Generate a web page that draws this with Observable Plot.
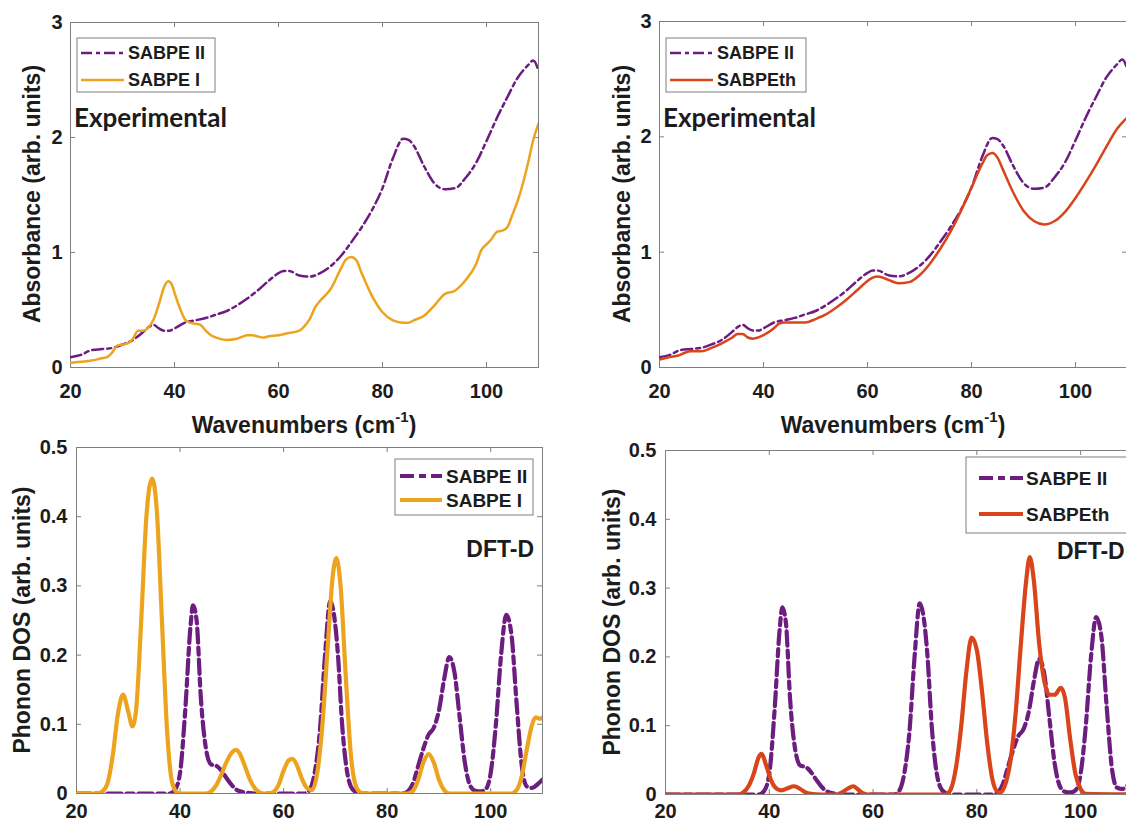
<!DOCTYPE html>
<html><head><meta charset="utf-8">
<script src="https://cdn.jsdelivr.net/npm/d3@7"></script>
<script src="https://cdn.jsdelivr.net/npm/@observablehq/plot@0.6"></script>
<style>
body{margin:0;background:#fff;}
#fig{position:relative;width:1126px;height:823px;overflow:hidden;background:#fff;}
.panel{position:absolute;}
.panel svg{overflow:visible;background:none !important;max-width:none !important;}
</style></head><body><div id="fig"></div>
<script>
// ---------- data ----------
const xTicks = [20, 40, 60, 80, 100];
const yTicksExp = [0, 1, 2, 3];
const yTicksDos = [0, 0.1, 0.2, 0.3, 0.4, 0.5];

// Experimental absorbance, SABPE II
const expII_x = [20,22,24,26,28,30,32,34,35,36,37,38,39,40,42,44,46,48,50,52,54,56,58,60,61,62,64,66,68,70,72,74,76,78,80,82,84,85,86,88,90,92,94,96,98,100,102,104,106,107,108,109,110];
const expII_y = [0.09,0.11,0.15,0.16,0.17,0.20,0.24,0.31,0.35,0.37,0.34,0.32,0.32,0.34,0.39,0.41,0.43,0.46,0.49,0.54,0.60,0.67,0.75,0.82,0.84,0.84,0.80,0.79,0.82,0.88,0.97,1.09,1.22,1.37,1.56,1.82,1.99,1.98,1.93,1.75,1.60,1.55,1.56,1.65,1.78,1.97,2.17,2.35,2.52,2.58,2.63,2.67,2.58];

// Experimental absorbance, SABPE I
const expI_x = [20,22,24,26,27,28,29,30,31,32,33,34,35,36,37,38,38.8,39.5,40,41,42,43,44,45,46,47,48,50,52,54,55,56,57,58,60,62,64,65,66,67,68,70,72,73,74,75,76,78,80,82,84,85,86,88,90,92,94,96,98,99,100,101,102,103,104,105,106,107,108,109,110];
const expI_y = [0.04,0.05,0.06,0.08,0.09,0.13,0.19,0.20,0.21,0.25,0.32,0.32,0.35,0.42,0.55,0.70,0.75,0.72,0.65,0.52,0.42,0.39,0.38,0.37,0.32,0.28,0.26,0.24,0.25,0.28,0.28,0.27,0.26,0.27,0.28,0.30,0.32,0.36,0.42,0.52,0.58,0.68,0.86,0.94,0.96,0.93,0.82,0.62,0.48,0.41,0.39,0.39,0.41,0.45,0.54,0.64,0.67,0.76,0.90,1.02,1.07,1.12,1.18,1.19,1.22,1.33,1.45,1.60,1.78,1.98,2.12];

// Experimental absorbance, SABPEth
const expEth_x = [20,22,24,25,26,28,30,32,34,35,36,37,38,40,42,43,44,46,48,50,52,54,56,58,60,61,62,64,66,68,70,72,74,76,78,80,82,83,84,85,86,88,90,92,94,96,98,100,102,104,106,108,110];
const expEth_y = [0.07,0.09,0.11,0.13,0.14,0.14,0.17,0.21,0.26,0.29,0.29,0.26,0.25,0.28,0.34,0.38,0.39,0.39,0.39,0.42,0.46,0.52,0.59,0.67,0.75,0.78,0.79,0.76,0.73,0.74,0.80,0.90,1.03,1.18,1.36,1.56,1.76,1.84,1.86,1.82,1.72,1.52,1.36,1.27,1.24,1.27,1.35,1.47,1.61,1.76,1.92,2.07,2.17];

// DFT-D phonon DOS, SABPE II
const dosII_x = [20,38,39,40,41,42,42.5,43.2,44,45,46,47,48,49,50,51,53,55,64,65,66,67,68,69,69.7,70.5,71.3,72,73,74,75,83,84,85,86,87,88,89,90,91,92,93,94,95,96,97,98,99,100,101,102,103,104,105,106,107,108,109,110];
const dosII_y = [0,0,0.005,0.03,0.12,0.24,0.272,0.25,0.14,0.065,0.042,0.04,0.033,0.022,0.012,0.005,0.001,0,0,0.005,0.03,0.09,0.2,0.278,0.26,0.2,0.1,0.045,0.01,0.002,0,0,0.003,0.015,0.04,0.065,0.085,0.095,0.12,0.165,0.197,0.175,0.11,0.045,0.012,0.004,0.003,0.006,0.03,0.1,0.2,0.258,0.23,0.13,0.04,0.01,0.008,0.013,0.02];

// DFT-D phonon DOS, SABPE I
const dosI_x = [20,24,25,26,27,28,29,30,30.8,31.5,32.5,33.5,34.6,35.5,36.5,37.5,38.5,39.5,40,45,46,47,48,49,50,50.8,51.5,52.5,53.5,54.5,55.5,56,57,58,59,60,61,61.7,62.5,63.5,64.5,65.5,66.5,67.5,68.5,69.5,70.2,71,72,73,74,75,76,84,85,86,87,88,89,90,91,92,104,105,106,107,108,108.7,109.5,110];
const dosI_y = [0,0,0.003,0.015,0.055,0.115,0.143,0.118,0.097,0.12,0.25,0.40,0.455,0.41,0.25,0.09,0.015,0.001,0,0,0.003,0.012,0.028,0.046,0.059,0.063,0.058,0.04,0.02,0.007,0.001,0,0,0.002,0.012,0.033,0.048,0.05,0.042,0.022,0.008,0.005,0.03,0.1,0.21,0.315,0.34,0.30,0.17,0.055,0.01,0.001,0,0,0.004,0.02,0.045,0.057,0.045,0.02,0.005,0,0,0.005,0.025,0.065,0.1,0.11,0.108,0.11];

// DFT-D phonon DOS, SABPEth
const dosEth_x = [20,34,35,36,37,38,38.5,39.5,40.5,41.5,42.4,43.5,44.8,46,47,48,50,53,54,55,56.2,57,58,59,74,75,76,77,78,79,80,81,82,83,84,84.5,85.5,86.5,87.5,88.5,89.5,90.2,91,92,93,94,95,96.2,97,98,99,100,101,110];
const dosEth_y = [0,0,0.003,0.012,0.03,0.055,0.059,0.04,0.018,0.008,0.006,0.009,0.012,0.008,0.003,0.001,0,0,0.003,0.008,0.012,0.008,0.002,0,0,0.008,0.04,0.1,0.18,0.228,0.21,0.15,0.075,0.022,0.004,0.003,0.015,0.05,0.12,0.22,0.31,0.345,0.31,0.22,0.165,0.145,0.145,0.155,0.14,0.08,0.03,0.008,0.001,0];

const names = {II: "SABPE II", I: "SABPE I", eth: "SABPEth"};
const colors = {II: "#6c1d80", I: "#eca41f", eth: "#d9441a"};

// ---------- helpers ----------
const zip = (xs, ys) => xs.map((x, i) => ({x, y: ys[i]}));
const FONT = "'Liberation Sans', Arial, Helvetica, sans-serif";
const fig = document.getElementById("fig");

function panel(cfg) {
  const plotW = cfg.width - cfg.mL - cfg.mR;
  const plotH = cfg.height - cfg.mT - cfg.mB;
  const [y0, y1] = cfg.yDomain;
  const tx = 5 / plotW * 90;          // inward tick length in x units
  const ty = 5 / plotH * (y1 - y0);   // inward tick length in y units
  const tickStroke = "#7f7f7f";
  const marks = [
    Plot.frame({stroke: "#7f7f7f", strokeWidth: 1}),
    Plot.ruleX(xTicks, {x: d => d, y1: y0, y2: y0 + ty, stroke: tickStroke}),
    Plot.ruleX(xTicks, {x: d => d, y1: y1, y2: y1 - ty, stroke: tickStroke}),
    Plot.ruleY(cfg.yTicks, {y: d => d, x1: 20, x2: 20 + tx, stroke: tickStroke}),
    Plot.ruleY(cfg.yTicks, {y: d => d, x1: 110, x2: 110 - tx, stroke: tickStroke}),
    Plot.axisX(xTicks, {anchor: "bottom", tickSize: 0, tickPadding: cfg.xPad, fontSize: 20, fontWeight: "bold", label: null}),
    Plot.axisY(cfg.yTicks, {anchor: "left", tickSize: 0, tickPadding: cfg.yPad, fontSize: 20, fontWeight: "bold", label: null, tickFormat: d => String(d)})
  ];
  for (const s of cfg.series) {
    marks.push(Plot.line(zip(s.x, s.y), {x: "x", y: "y", stroke: s.color, strokeWidth: s.width,
      strokeDasharray: s.dash || null, curve: "monotone-x", clip: true}));
  }
  const chart = Plot.plot({
    width: cfg.width, height: cfg.height,
    marginLeft: cfg.mL, marginRight: cfg.mR, marginTop: cfg.mT, marginBottom: cfg.mB,
    x: {domain: [20, 110]},
    y: {domain: cfg.yDomain},
    style: {fontFamily: FONT, color: "#1c1c1c", background: "transparent", overflow: "visible", maxWidth: "none"},
    marks
  });
  const div = document.createElement("div");
  div.className = "panel";
  div.style.left = cfg.left + "px";
  div.style.top = cfg.top + "px";
  div.style.width = cfg.width + "px";
  div.style.height = cfg.height + "px";
  chart.style.width = cfg.width + "px";
  chart.style.height = cfg.height + "px";
  div.appendChild(chart);
  fig.appendChild(div);

  const svg = d3.select(chart);
  const L = X => X - cfg.left, T = Y => Y - cfg.top;
  const g = svg.append("g").attr("font-family", FONT).attr("fill", "#1c1c1c").attr("text-anchor", "start");

  // legend
  const lg = cfg.legend;
  g.append("rect").attr("x", L(lg.x)).attr("y", T(lg.y)).attr("width", lg.w).attr("height", lg.h)
    .attr("fill", "white").attr("stroke", "#7f7f7f").attr("stroke-width", 1);
  cfg.series.forEach((s, i) => {
    const ry = T(lg.rows[i]);
    g.append("line").attr("x1", L(lg.lx0)).attr("x2", L(lg.lx1)).attr("y1", ry).attr("y2", ry)
      .attr("stroke", s.color).attr("stroke-width", s.width).attr("stroke-dasharray", s.legendDash || null);
    g.append("text").attr("x", L(lg.tx)).attr("y", ry).attr("dy", "0.36em").attr("text-anchor", "start")
      .attr("font-size", lg.size).attr("font-weight", "bold").text(s.name);
  });

  // note ("Experimental" / "DFT-D")
  const n = cfg.note;
  g.append("text").attr("x", L(n.x)).attr("y", T(n.y)).attr("dy", "0.36em")
    .attr("text-anchor", n.anchor).attr("font-size", n.size).attr("font-weight", "bold")
    .attr("font-family", n.family || FONT).text(n.text);

  // y label
  g.append("text").attr("transform", `translate(${L(cfg.ylab.x)},${T(cfg.ylab.y)}) rotate(-90)`)
    .attr("text-anchor", "middle").attr("dy", "0.36em").attr("font-size", 23).attr("font-weight", "bold")
    .text(cfg.ylab.text);

  // x label with superscript
  if (cfg.xlab) {
    const t = g.append("text").attr("x", L(cfg.xlab.x)).attr("y", T(cfg.xlab.y))
      .attr("text-anchor", "middle").attr("font-size", 23).attr("font-weight", "bold");
    t.append("tspan").text("Wavenumbers (cm");
    t.append("tspan").attr("font-size", 15).attr("dy", -11).text("-1");
    t.append("tspan").attr("dy", 11).text(")");
  }
}

const dashTop = "11,4,4,4";
const dashBot = "14,5,7,5";

// top-left
panel({
  left: 0, top: 0, width: 563, height: 445, mL: 70, mR: 25, mT: 22, mB: 78,
  yDomain: [0, 3], yTicks: yTicksExp, xPad: 16, yPad: 8,
  series: [
    {name: names.II, x: expII_x, y: expII_y, color: colors.II, width: 2.5, dash: dashTop, legendDash: dashTop},
    {name: names.I, x: expI_x, y: expI_y, color: colors.I, width: 2.5}
  ],
  legend: {x: 77, y: 38, w: 138, h: 54, rows: [53, 80], lx0: 81, lx1: 124, tx: 128, size: 18},
  note: {text: "Experimental", x: 74, y: 118, anchor: "start", size: 26, family: "Lato, 'Open Sans', sans-serif"},
  ylab: {text: "Absorbance (arb. units)", x: 32, y: 194},
  xlab: {x: 304, y: 433}
});

// top-right
panel({
  left: 563, top: 0, width: 600, height: 445, mL: 96, mR: 36, mT: 21, mB: 78,
  yDomain: [0, 3], yTicks: yTicksExp, xPad: 16, yPad: 8,
  series: [
    {name: names.II, x: expII_x, y: expII_y, color: colors.II, width: 2.5, dash: dashTop, legendDash: dashTop},
    {name: names.eth, x: expEth_x, y: expEth_y, color: colors.eth, width: 2.5}
  ],
  legend: {x: 666, y: 38, w: 140, h: 54, rows: [53, 80], lx0: 670, lx1: 713, tx: 717, size: 18},
  note: {text: "Experimental", x: 663, y: 118, anchor: "start", size: 26, family: "Lato, 'Open Sans', sans-serif"},
  ylab: {text: "Absorbance (arb. units)", x: 622, y: 194},
  xlab: {x: 893, y: 433}
});

// bottom-left
panel({
  left: 0, top: 440, width: 563, height: 383, mL: 76, mR: 21, mT: 7, mB: 30,
  yDomain: [0, 0.5], yTicks: yTicksDos, xPad: 10, yPad: 9,
  series: [
    {name: names.II, x: dosII_x, y: dosII_y, color: colors.II, width: 4.2, dash: dashBot, legendDash: dashBot},
    {name: names.I, x: dosI_x, y: dosI_y, color: colors.I, width: 4.2}
  ],
  legend: {x: 395, y: 459, w: 138, h: 56, rows: [476, 500], lx0: 400, lx1: 442, tx: 446, size: 19},
  note: {text: "DFT-D", x: 534, y: 549, anchor: "end", size: 23},
  ylab: {text: "Phonon DOS (arb. units)", x: 22, y: 620}
});

// bottom-right
panel({
  left: 563, top: 440, width: 600, height: 383, mL: 102, mR: 31, mT: 10, mB: 29,
  yDomain: [0, 0.5], yTicks: yTicksDos, xPad: 9, yPad: 9,
  series: [
    {name: names.II, x: dosII_x, y: dosII_y, color: colors.II, width: 4.2, dash: dashBot, legendDash: dashBot},
    {name: names.eth, x: dosEth_x, y: dosEth_y, color: colors.eth, width: 4.2}
  ],
  legend: {x: 966, y: 457, w: 162, h: 76, rows: [478, 514], lx0: 979, lx1: 1023, tx: 1026, size: 19},
  note: {text: "DFT-D", x: 1057, y: 551, anchor: "start", size: 23},
  ylab: {text: "Phonon DOS (arb. units)", x: 612, y: 622}
});
</script>
</body></html>
